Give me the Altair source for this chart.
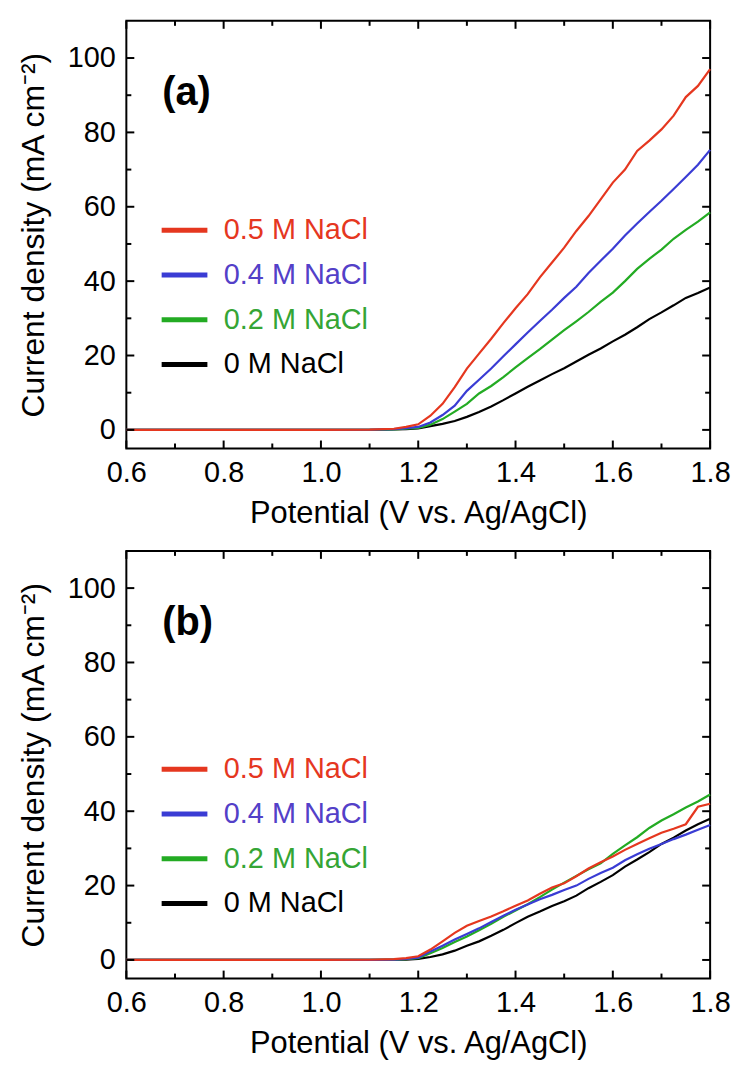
import altair as alt
import pandas as pd

FONT = "Liberation Sans"
W, H = 587, 430

potential = [0.6, 0.8, 1.0, 1.1, 1.15, 1.175, 1.2, 1.225, 1.25, 1.275, 1.3, 1.325,
             1.35, 1.375, 1.4, 1.425, 1.45, 1.475, 1.5, 1.525, 1.55, 1.575, 1.6,
             1.625, 1.65, 1.675, 1.7, 1.725, 1.75, 1.775, 1.8]

series = ["0.5 M NaCl", "0.4 M NaCl", "0.2 M NaCl", "0 M NaCl"]
line_colors = ["#e5371f", "#3a3cd4", "#23ab23", "#000000"]
label_colors = ["#e5371f", "#5340c8", "#35a535", "#000000"]

a_05 = [0, 0, 0, 0.05, 0.3, 0.8, 1.5, 3.8, 7, 11.5, 16.5, 20.5, 24.5, 28.7, 32.7,
        36.5, 41, 45, 49, 53.5, 57.5, 62, 66.5, 70, 75, 77.8, 80.8, 84.5, 89.5, 92.5, 97]
a_04 = [0, 0, 0, 0.03, 0.2, 0.45, 0.8, 2, 4, 6.5, 10.5, 13.5, 16.5, 19.8, 23, 26.2,
        29.3, 32.3, 35.5, 38.5, 42.2, 45.5, 48.7, 52.3, 55.5, 58.6, 61.6, 64.8, 68, 71.3, 75.3]
a_02 = [0, 0, 0, 0.02, 0.1, 0.3, 0.5, 1.4, 2.9, 4.9, 7, 9.8, 11.8, 14.2, 16.8, 19.3,
        21.7, 24.3, 26.8, 29.2, 31.7, 34.4, 36.9, 40, 43.3, 46, 48.5, 51.4, 53.8, 56, 58.5]
a_00 = [0, 0, 0, 0.01, 0.1, 0.2, 0.4, 1, 1.6, 2.4, 3.5, 4.8, 6.3, 8, 9.8, 11.6, 13.3,
        15, 16.6, 18.4, 20.2, 21.9, 23.8, 25.6, 27.6, 29.8, 31.6, 33.5, 35.5, 36.8, 38.3]

b_05 = [0, 0, 0, 0.05, 0.2, 0.5, 1, 2.8, 5, 7.3, 9.2, 10.5, 11.7, 13.1, 14.6, 16,
        17.8, 19.5, 20.6, 22.5, 24.6, 26.3, 27.8, 29.6, 31.2, 32.7, 34.2, 35.3, 36.5, 41.2, 42]
b_04 = [0, 0, 0, 0.03, 0.1, 0.3, 0.6, 2.3, 3.8, 5.5, 7, 8.5, 10.2, 11.9, 13.5, 14.9,
        16.3, 17.5, 18.8, 20, 21.8, 23.4, 24.8, 26.8, 28.4, 29.9, 31.2, 32.5, 33.7, 35, 36.3]
b_02 = [0, 0, 0, 0.02, 0.1, 0.2, 0.5, 1.8, 3.2, 4.8, 6.3, 8, 9.7, 11.6, 13.3, 15,
        16.9, 18.9, 20.8, 22.6, 24.4, 26, 28.5, 30.8, 33, 35.5, 37.5, 39.2, 41, 42.6, 44.5]
b_00 = [0, 0, 0, 0.01, 0.05, 0.1, 0.3, 0.8, 1.5, 2.5, 3.8, 5, 6.5, 8.1, 9.9, 11.6,
        13, 14.5, 15.8, 17.3, 19.3, 21, 22.8, 25.1, 27, 29, 31.2, 32.9, 34.8, 36.5, 38]

panel_a = dict(zip(series, [a_05, a_04, a_02, a_00]))
panel_b = dict(zip(series, [b_05, b_04, b_02, b_00]))

x_major = [0.6, 0.8, 1.0, 1.2, 1.4, 1.6, 1.8]
x_minor = [0.7, 0.9, 1.1, 1.3, 1.5, 1.7]
y_major = [0, 20, 40, 60, 80, 100]
y_minor = [10, 30, 50, 70, 90]

label_expr = " : ".join(
    f"datum.label === '{n}' ? '{c}'" for n, c in zip(series, label_colors)
) + " : 'black'"

XS = alt.Scale(domain=[0.6, 1.8], nice=False, zero=False)
YS = alt.Scale(domain=[-5, 110], nice=False, zero=False)


def xticks(vals, y0, y1):
    return alt.Chart(pd.DataFrame({"tx": vals})).mark_rule(
        color="black", strokeWidth=2).encode(
        x=alt.X("tx:Q", scale=XS, axis=None), y=alt.value(y0), y2=alt.value(y1))


def yticks(vals, x0, x1):
    return alt.Chart(pd.DataFrame({"ty": vals})).mark_rule(
        color="black", strokeWidth=2).encode(
        y=alt.Y("ty:Q", scale=YS, axis=None), x=alt.value(x0), x2=alt.value(x1))


def make_panel(curves, tag, legend_y):
    rows = []
    for name in reversed(series):
        for v, j in zip(potential, curves[name]):
            rows.append({"V": v, "J": j, "series": name})
    df = pd.DataFrame(rows)

    lines = alt.Chart(df).mark_line(strokeWidth=2.2).encode(
        x=alt.X("V:Q", scale=XS, axis=alt.Axis(
            orient="bottom", values=x_major, format=".1f", ticks=False,
            domain=False, grid=False, labelFontSize=29, labelPadding=10,
            labelFlush=False, title="Potential (V vs. Ag/AgCl)", titleFontSize=31,
            titleFontWeight="normal", titlePadding=11)),
        y=alt.Y("J:Q", scale=YS, axis=alt.Axis(
            orient="left", values=y_major, ticks=False, domain=False,
            grid=False, labelFontSize=29, labelPadding=11,
            title="Current density (mA cm\u207b\u00b2)", titleFontSize=32,
            titleFontWeight="normal", titlePadding=17)),
        color=alt.Color("series:N", scale=alt.Scale(domain=series, range=line_colors),
                        legend=alt.Legend(
                            orient="none", legendX=33, legendY=legend_y, title=None,
                            symbolType="stroke", symbolStrokeWidth=5, symbolSize=2116,
                            labelFontSize=29, labelFont=FONT, labelOffset=14,
                            labelColor={"expr": label_expr}, rowPadding=4, padding=0)),
    )

    tag_layer = alt.Chart(pd.DataFrame({"t": [tag]})).mark_text(
        align="left", baseline="alphabetic", fontSize=40, fontWeight="bold",
        font=FONT, color="black").encode(text="t:N", x=alt.value(36), y=alt.value(85))

    return alt.layer(
        lines,
        xticks(x_major, H, H - 8), xticks(x_minor, H, H - 5),
        xticks(x_major, 0, 8), xticks(x_minor, 0, 5),
        yticks(y_major, 0, 8), yticks(y_minor, 0, 5),
        yticks(y_major, W, W - 8), yticks(y_minor, W, W - 5),
        tag_layer,
    ).resolve_axis(x="independent", y="independent").properties(width=W, height=H)


chart = alt.vconcat(
    make_panel(panel_a, "(a)", 185),
    make_panel(panel_b, "(b)", 194),
    spacing=20,
).resolve_scale(color="independent").properties(
    padding={"left": 8, "top": 8, "right": 0, "bottom": 0}
).configure(font=FONT).configure_view(
    stroke="black", strokeWidth=2
).configure_axis(labelColor="black", titleColor="black", labelFont=FONT, titleFont=FONT)

chart.save("out.html", embed_options={"renderer": "svg", "actions": False})
